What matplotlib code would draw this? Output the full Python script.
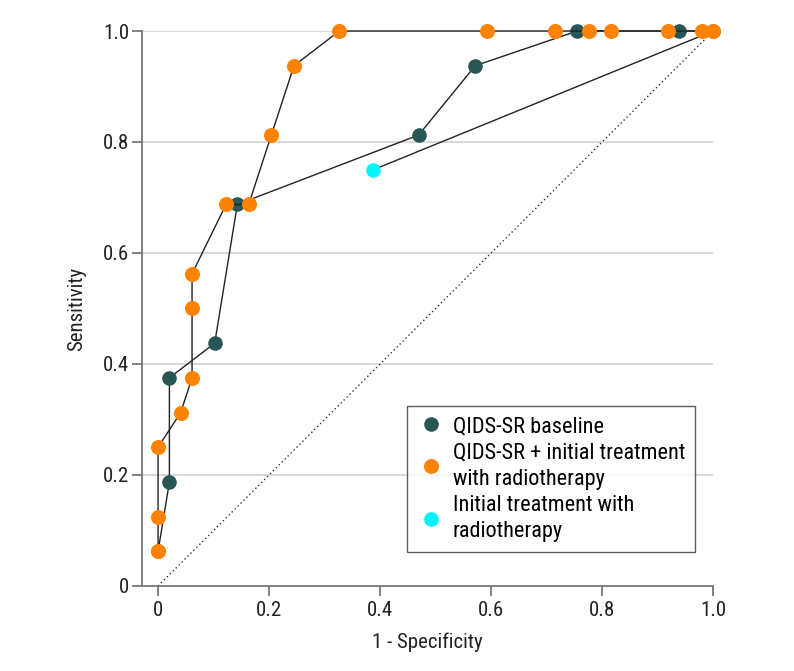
import matplotlib
matplotlib.use("Agg")
import matplotlib.pyplot as plt
from matplotlib import font_manager

# pick a condensed font if one is installed
fam, stretch = 'Noto Sans', 'normal'
cands = []
for f in font_manager.fontManager.ttflist:
    st = str(f.stretch)
    if f.style != 'normal' or str(f.weight) not in ('400', 'normal', 'regular'):
        continue
    if 'Narrow' in f.name or 'Condensed' in f.name or st in ('condensed', 'semi-condensed'):
        cands.append((f.name, st))
if cands:
    pref = [c for c in cands if 'Liberation' in c[0]] + [c for c in cands if 'Noto' in c[0] or 'Open' in c[0] or 'Roboto' in c[0]] + cands
    fam, stretch = pref[0]
plt.rcParams['font.family'] = [fam, 'DejaVu Sans']
plt.rcParams['font.stretch'] = stretch

# Data
base_fpr = [0, 1/49, 1/49, 5/49, 7/49, 23/49, 28/49, 37/49, 46/49, 1.0]
base_tpr = [1/16, 3/16, 6/16, 7/16, 11/16, 13/16, 15/16, 1.0, 1.0, 1.0]

comb_fpr = [0, 0, 0, 2/49, 3/49, 3/49, 3/49, 6/49, 8/49, 10/49, 12/49, 16/49,
            29/49, 35/49, 38/49, 40/49, 45/49, 48/49, 1.0]
comb_tpr = [1/16, 2/16, 4/16, 5/16, 6/16, 8/16, 9/16, 11/16, 11/16, 13/16, 15/16, 1.0,
            1.0, 1.0, 1.0, 1.0, 1.0, 1.0, 1.0]

rt_fpr = [19/49, 1.0]
rt_tpr = [0.75, 1.0]

xticks = [0, 0.2, 0.4, 0.6, 0.8, 1.0]
xticklabels = ['0', '0.2', '0.4', '0.6', '0.8', '1.0']
yticks = [0, 0.2, 0.4, 0.6, 0.8, 1.0]
yticklabels = ['0', '0.2', '0.4', '0.6', '0.8', '1.0']

c_base = '#275654'
c_comb = '#ff8200'
c_rt = '#00f5ff'

fs = 15 if stretch != 'normal' else 14
lfs = 16 if stretch != 'normal' else 14

fig = plt.figure(figsize=(7.94, 6.71), dpi=100)
ax = fig.add_axes([0.1788, 0.1267, 0.7194, 0.8271])

ax.set_xlim(-0.029, 1.0)
ax.set_ylim(0, 1.0)

for y in yticks[1:]:
    ax.axhline(y, xmin=0, xmax=1, color='#d9d9d9', lw=1.5, zorder=0)

ax.plot([0, 1], [0, 1], ls=(0, (1, 2)), color='#333333', lw=1.0, zorder=1)

ms = 10.5
ax.plot(rt_fpr, rt_tpr, color='#222222', lw=1.0, zorder=2)
ax.plot(rt_fpr[:1], rt_tpr[:1], 'o', color=c_rt, ms=ms, mec='none', zorder=3, clip_on=False,
        label='Initial treatment with\nradiotherapy')
ax.plot(base_fpr, base_tpr, color='#222222', lw=1.0, zorder=2, clip_on=False)
ax.plot(base_fpr, base_tpr, 'o', color=c_base, ms=ms, mec='none', zorder=3, clip_on=False,
        label='QIDS-SR baseline')
ax.plot(comb_fpr, comb_tpr, color='#222222', lw=1.0, zorder=4, clip_on=False)
ax.plot(comb_fpr, comb_tpr, 'o', color=c_comb, ms=ms + 0.3, mec='none', zorder=5, clip_on=False,
        label='QIDS-SR + initial treatment\nwith radiotherapy')

for s in ['top', 'right']:
    ax.spines[s].set_visible(False)
for s in ['left', 'bottom']:
    ax.spines[s].set_color('#777777')
    ax.spines[s].set_linewidth(1.3)

ax.set_xticks(xticks)
ax.set_xticklabels(xticklabels)
ax.set_yticks(yticks)
ax.set_yticklabels(yticklabels)
ax.tick_params(axis='both', labelsize=fs, width=1.3, length=7, labelcolor='#222222', color='#777777')
ax.tick_params(axis='y', pad=2)

ax.set_xlabel('1 - Specificity', fontsize=fs, labelpad=9, color='#222222')
ax.set_ylabel('Sensitivity', fontsize=fs, labelpad=12, color='#222222')

h, l = ax.get_legend_handles_labels()
order = [1, 2, 0]
leg = ax.legend([h[i] for i in order], [l[i] for i in order], loc='lower right',
                bbox_to_anchor=(0.9685, 0.0613), fontsize=lfs, frameon=True, fancybox=False,
                edgecolor='#333333', handletextpad=0.4, handlelength=1.2, borderpad=0.45,
                borderaxespad=0, labelspacing=0.25)
for t in leg.get_texts():
    t.set_linespacing(1.3)
leg.get_frame().set_linewidth(1.0)

fig.savefig('out.png', dpi=100)
